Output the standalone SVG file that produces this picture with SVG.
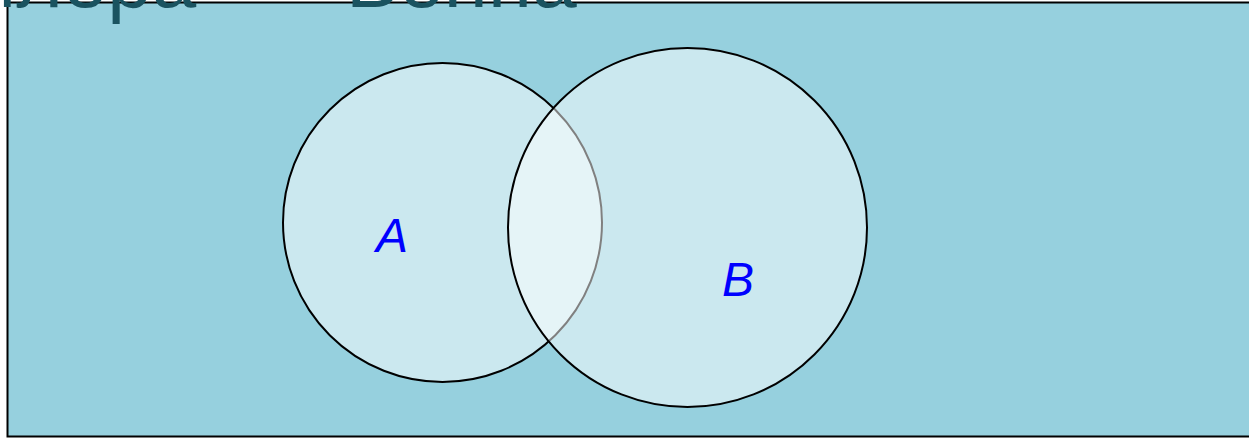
<svg xmlns="http://www.w3.org/2000/svg" width="1249" height="438" viewBox="0 0 1249 438">
<style>
.set{fill:#ffffff;fill-opacity:0.5;stroke:#000;stroke-width:2}
.lbl{font-family:"Liberation Sans",Arial,sans-serif;font-style:italic;font-size:48px;fill:#0000ff}
.title{font-family:"Liberation Sans",Arial,sans-serif;font-size:80px;fill:#1a5360}
</style>
<rect width="1249" height="438" fill="#ffffff"/>
<g id="frame">
<rect x="7.5" y="2.5" width="1300" height="434" fill="#96d0de" stroke="#000" stroke-width="2"/>
</g>
<text class="title" x="-86" y="7">Эйлера — <tspan x="346">Венна</tspan></text>
<g id="setA">
<circle class="set" cx="442.5" cy="222.5" r="159.5"/>
<text class="lbl" x="376" y="252">A</text>
</g>
<g id="setB">
<circle class="set" cx="687.5" cy="227.5" r="179.5"/>
<text class="lbl" x="722" y="296">B</text>
</g>
<g id="connectors"></g>
</svg>
